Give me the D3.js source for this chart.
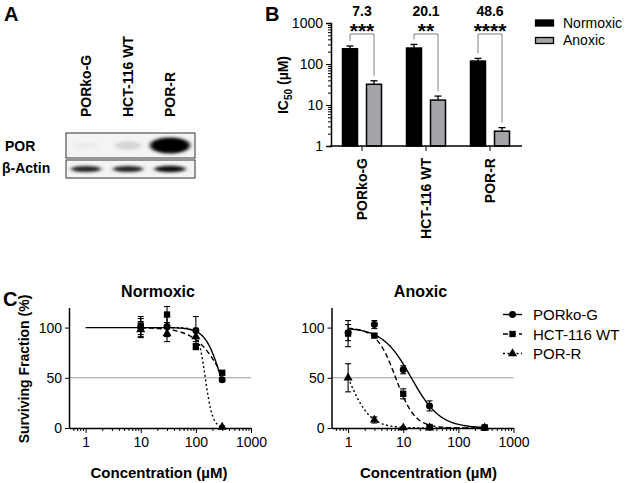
<!DOCTYPE html>
<html>
<head>
<meta charset="utf-8">
<script src="https://cdn.jsdelivr.net/npm/d3@7"></script>
<style>
  body { margin: 0; background: #fff; }
  text { font-family: "Liberation Sans", Arial, Helvetica, sans-serif; fill: #000; }
</style>
</head>
<body>
<div id="chart"></div>
<script>
// ---- panel A: western blot lanes and band strengths (0..1)
var lanes = ["PORko-G", "HCT-116 WT", "POR-R"];
var porBand = [0.03, 0.13, 1.0];
var actinBand = [0.85, 0.85, 0.95];

// ---- panel B: IC50 (uM), mean and upper error
var cellLines = ["PORko-G", "HCT-116 WT", "POR-R"];
var normoxicIC50 = [235, 245, 118];
var normoxicErr = [40, 55, 19];
var anoxicIC50 = [32, 13.2, 2.3];
var anoxicErr = [7, 3.3, 0.5];
var ratioLabels = ["7.3", "20.1", "48.6"];
var starLabels = ["***", "**", "****"];
var conditions = ["Normoxic", "Anoxic"];

// ---- panel C: surviving fraction (%)
var normoxicConc = [10, 30, 100, 300];
var normPORko = [100, 101, 97, 48];
var normPORkoErr = [9, 10, 14, 2];
var normHCT = [102, 113, 81, 55];
var normHCTErr = [9, 8, 3, 2];
var normPORR = [98, 94, 91, 1];
var normPORRErr = [8, 8, 5, 1];

var anoxicConc = [1, 3, 10, 30, 300];
var anoxPORko = [95, 103, 58, 22, 0.5];
var anoxPORkoErr = [8, 4, 4, 5, 1];
var anoxHCT = [94, 92, 34, 1, 0.5];
var anoxHCTErr = [13, 2, 5, 1, 1];
var anoxPORR = [50, 8, 0.3, 0.2, 0.2];
var anoxPORRErr = [14, 3, 0.5, 0.5, 0.5];

// fitted dose-response curves (ic50, hill slope, drawn from..to)
var normFitIC50 = [285, 322, 148];
var normFitHill = [3.1, 1.7, 6.5];
var normFitFrom = [1, 10, 10];
var anoxFitIC50 = [14, 7.3, 1.0];
var anoxFitHill = [1.67, 2.5, 2.2];
var anoxFitFrom = [1, 1, 1];
var fitTo = 300;

var seriesNames = ["PORko-G", "HCT-116 WT", "POR-R"];
var dashes = [null, "5,3", "2,2.5"];
var symbols = [d3.symbolCircle, d3.symbolSquare, d3.symbolTriangle];
var symbolSizes = [38, 40, 36];

var W = 625, H = 483;
var svg = d3.select("#chart").append("svg")
    .attr("width", W).attr("height", H);

var defs = svg.append("defs");
defs.append("filter").attr("id", "blur").attr("x", "-50%").attr("y", "-100%")
    .attr("width", "200%").attr("height", "300%")
  .append("feGaussianBlur").attr("stdDeviation", "2.2 1.6");

function panelLetter(t, x, y) {
  svg.append("text").attr("x", x).attr("y", y)
      .attr("font-size", 20).attr("font-weight", "bold").text(t);
}

// ================= A =================
panelLetter("A", 4, 21);

var laneX = d3.scalePoint().domain(lanes).range([86, 170]);

svg.append("g").selectAll("text")
    .data(lanes)
  .enter().append("text")
    .attr("transform", d => "translate(" + (laneX(d) + 5) + ",117) rotate(-90)")
    .attr("font-size", 14).attr("font-weight", "bold")
    .text(d => d);

svg.append("text").attr("x", 5).attr("y", 151)
    .attr("font-size", 14).attr("font-weight", "bold").text("POR");
svg.append("text").attr("x", 2).attr("y", 173)
    .attr("font-size", 14).attr("font-weight", "bold").text("β-Actin");

function blotStrip(y0, h, vals, bw, bh) {
  var g = svg.append("g");
  g.append("rect").attr("x", 66).attr("y", y0).attr("width", 129).attr("height", h)
      .attr("fill", "#f4f4f4");
  g.append("g").attr("filter", "url(#blur)")
    .selectAll("ellipse")
    .data(vals)
    .enter().append("ellipse")
      .attr("cx", (d, i) => laneX(lanes[i]))
      .attr("cy", y0 + h / 2)
      .attr("rx", (d, i) => bw * (0.6 + 0.4 * d))
      .attr("ry", (d) => bh * (0.45 + 0.55 * d))
      .attr("fill", "#000")
      .attr("opacity", d => d);
  g.append("rect").attr("x", 66).attr("y", y0).attr("width", 129).attr("height", h)
      .attr("fill", "none").attr("stroke", "#333").attr("stroke-width", 1);
}
blotStrip(133, 25, porBand, 20, 8);
blotStrip(160, 18, actinBand, 16, 3.3);

// ================= B =================
panelLetter("B", 265, 21);

var yB = d3.scaleLog().domain([1, 1000]).range([146, 23]);
var xB = d3.scaleBand().domain(cellLines).range([330, 522]);
var xSub = d3.scaleBand().domain(conditions).range([-19.5, 19.5]).paddingInner(0.375);

var gB = svg.append("g");

// minor ticks
var minorB = [];
[1, 10, 100].forEach(function(dec) { for (var k = 2; k <= 9; k++) minorB.push(dec * k); });
gB.append("g").attr("transform", "translate(331,0)")
    .call(d3.axisLeft(yB).tickValues(minorB).tickSize(3).tickFormat(""))
    .call(g => g.select(".domain").remove());
gB.append("g").attr("transform", "translate(331,0)")
    .call(d3.axisLeft(yB).tickValues([1, 10, 100, 1000]).tickFormat(d3.format("d"))
      .tickSize(5).tickPadding(3))
    .call(g => g.selectAll("text").attr("font-size", 14))
    .call(g => g.select(".domain").attr("stroke-width", 1.5));

var barRows = cellLines.map((c, i) => [
  { line: c, cond: "Normoxic", v: normoxicIC50[i], e: normoxicErr[i] },
  { line: c, cond: "Anoxic", v: anoxicIC50[i], e: anoxicErr[i] }
]);
var barData = [].concat.apply([], barRows);
var bx = d => xB(d.line) + xB.bandwidth() / 2 + xSub(d.cond);

// error bars (upper only)
var eb = gB.append("g").attr("stroke", "#000").attr("stroke-width", 1.3);
eb.selectAll("line.v").data(barData).enter().append("line")
    .attr("x1", d => bx(d) + xSub.bandwidth() / 2).attr("x2", d => bx(d) + xSub.bandwidth() / 2)
    .attr("y1", d => yB(d.v)).attr("y2", d => yB(d.v + d.e));
eb.selectAll("line.c").data(barData).enter().append("line")
    .attr("x1", d => bx(d) + xSub.bandwidth() / 2 - 3.5).attr("x2", d => bx(d) + xSub.bandwidth() / 2 + 3.5)
    .attr("y1", d => yB(d.v + d.e)).attr("y2", d => yB(d.v + d.e));

gB.selectAll("rect.bar").data(barData).enter().append("rect")
    .attr("x", bx)
    .attr("y", d => yB(d.v))
    .attr("width", xSub.bandwidth())
    .attr("height", d => yB(1) - yB(d.v))
    .attr("fill", d => d.cond == "Normoxic" ? "#000" : "#a4a4a8")
    .attr("stroke", "#000").attr("stroke-width", 1.5);

// x axis
gB.append("g").attr("transform", "translate(0,146)")
    .call(d3.axisBottom(xB).tickSize(5).tickFormat(""))
    .call(g => g.select(".domain").attr("stroke-width", 1.5)
      .attr("d", "M330,0H522"));
gB.selectAll("text.xl").data(cellLines).enter().append("text")
    .attr("transform", d => "translate(" + (xB(d) + xB.bandwidth() / 2 + 5) + ",158) rotate(-90)")
    .attr("text-anchor", "end")
    .attr("font-size", 14).attr("font-weight", "bold")
    .text(d => d);

// y label
var yl = gB.append("text")
    .attr("transform", "translate(288,85) rotate(-90)")
    .attr("text-anchor", "middle")
    .attr("font-size", 14).attr("font-weight", "bold");
yl.append("tspan").text("IC");
yl.append("tspan").attr("font-size", 10).attr("dy", 4).text("50");
yl.append("tspan").attr("dy", -4).text(" (µM)");

// brackets, ratios, stars
cellLines.forEach(function(c, i) {
  var cx = xB(c) + xB.bandwidth() / 2;
  var xl = bx(barRows[i][0]) + xSub.bandwidth() / 2;
  var xr = bx(barRows[i][1]) + xSub.bandwidth() / 2;
  var yTop = 34;
  gB.append("path")
      .attr("d", "M" + xl + "," + (yB(normoxicIC50[i] + normoxicErr[i]) - 5) + "V" + yTop +
                 "H" + xr + "V" + (yB(anoxicIC50[i] + anoxicErr[i]) - 5))
      .attr("fill", "none").attr("stroke", "#808080").attr("stroke-width", 1);
  gB.append("text").attr("x", cx).attr("y", 16).attr("text-anchor", "middle")
      .attr("font-size", 14).attr("font-weight", "bold").text(ratioLabels[i]);
  gB.append("text").attr("x", cx).attr("y", 38).attr("text-anchor", "middle")
      .attr("font-size", 21).attr("font-weight", "bold").text(starLabels[i]);
});

// legend B
var lgB = gB.append("g");
conditions.forEach(function(c, i) {
  lgB.append("rect").attr("x", 535.5).attr("y", 20 + i * 17.5).attr("width", 18).attr("height", 6)
      .attr("fill", i == 0 ? "#000" : "#a4a4a8").attr("stroke", "#000").attr("stroke-width", 1.3);
  lgB.append("text").attr("x", 563).attr("y", 27.5 + i * 17.5)
      .attr("font-size", 14).text(c);
});

// ================= C =================
panelLetter("C", 3, 306);

function hill(ic50, h, x) { return 100 / (1 + Math.pow(x / ic50, h)); }

function curvePanel(opt) {
  var x = d3.scaleLog().domain([0.5, 1000]).range([opt.x0, opt.x0 + 182]);
  var y = d3.scaleLinear().domain([0, 120]).range([428, 307.5]);
  var g = svg.append("g");

  // 50% reference line
  g.append("line").attr("x1", opt.x0).attr("x2", x(1000))
      .attr("y1", y(50)).attr("y2", y(50))
      .attr("stroke", "#9a9a9a").attr("stroke-width", 1);

  var minor = [0.6, 0.7, 0.8, 0.9];
  [1, 10, 100].forEach(function(dec) { for (var k = 2; k <= 9; k++) minor.push(dec * k); });
  g.append("g").attr("transform", "translate(0,428)")
      .call(d3.axisBottom(x).tickValues(minor).tickSize(3).tickFormat(""))
      .call(s => s.select(".domain").remove());
  g.append("g").attr("transform", "translate(0,428)")
      .call(d3.axisBottom(x).tickValues([1, 10, 100, 1000]).tickFormat(d3.format("d"))
        .tickSize(5).tickSizeOuter(0).tickPadding(4))
      .call(s => s.selectAll("text").attr("font-size", 14))
      .call(s => s.select(".domain").attr("stroke-width", 1.5));
  g.append("g").attr("transform", "translate(" + opt.x0 + ",0)")
      .call(d3.axisLeft(y).tickValues([0, 50, 100]).tickSize(4).tickSizeOuter(0).tickPadding(3))
      .call(s => s.selectAll("text").attr("font-size", 14))
      .call(s => s.select(".domain").attr("stroke-width", 1.5));

  g.append("text").attr("x", opt.x0 + 89).attr("y", 297).attr("text-anchor", "middle")
      .attr("font-size", 16).attr("font-weight", "bold").text(opt.title);
  g.append("text").attr("x", opt.x0 + opt.xlabDx).attr("y", 478).attr("text-anchor", "middle")
      .attr("font-size", 15).attr("font-weight", "bold").text("Concentration (µM)");

  var line = d3.line().x(d => x(d[0])).y(d => y(d[1]));
  opt.ic50.forEach(function(ic, s) {
    var lo = Math.log10(opt.from[s]), hi = Math.log10(fitTo);
    var pts = d3.range(0, 121).map(k => {
      var xv = Math.pow(10, lo + (hi - lo) * k / 120);
      return [xv, hill(ic, opt.hill[s], xv)];
    });
    g.append("path").attr("d", line(pts))
        .attr("fill", "none").attr("stroke", "#000").attr("stroke-width", 1.4)
        .attr("stroke-dasharray", dashes[s]);
  });

  opt.series.forEach(function(sr, s) {
    var pts = opt.conc.map((c, i) => ({ c: c, v: sr.v[i], e: sr.e[i] }));
    var eg = g.append("g").attr("stroke", "#000").attr("stroke-width", 1.1);
    pts.forEach(function(p) {
      var px = x(p.c), y1 = y(p.v - p.e), y2 = y(Math.min(p.v + p.e, 122));
      eg.append("line").attr("x1", px).attr("x2", px).attr("y1", y1).attr("y2", y2);
      eg.append("line").attr("x1", px - 3).attr("x2", px + 3).attr("y1", y1).attr("y2", y1);
      if (p.v + p.e < 122)
        eg.append("line").attr("x1", px - 3).attr("x2", px + 3).attr("y1", y2).attr("y2", y2);
    });
    g.append("g").selectAll("path").data(pts).enter().append("path")
        .attr("transform", p => "translate(" + x(p.c) + "," + y(p.v) + ")")
        .attr("d", d3.symbol().type(symbols[s]).size(symbolSizes[s]))
        .attr("fill", "#000");
  });
}

curvePanel({
  x0: 69, title: "Normoxic", xlabDx: 90,
  conc: normoxicConc,
  series: [{ v: normPORko, e: normPORkoErr }, { v: normHCT, e: normHCTErr }, { v: normPORR, e: normPORRErr }],
  ic50: normFitIC50, hill: normFitHill, from: normFitFrom
});
curvePanel({
  x0: 331.5, title: "Anoxic", xlabDx: 97,
  conc: anoxicConc,
  series: [{ v: anoxPORko, e: anoxPORkoErr }, { v: anoxHCT, e: anoxHCTErr }, { v: anoxPORR, e: anoxPORRErr }],
  ic50: anoxFitIC50, hill: anoxFitHill, from: anoxFitFrom
});

svg.append("text")
    .attr("transform", "translate(29,369) rotate(-90)")
    .attr("text-anchor", "middle")
    .attr("font-size", 14).attr("font-weight", "bold")
    .text("Surviving Fraction (%)");

// legend C
var lgC = svg.append("g");
seriesNames.forEach(function(n, i) {
  var yy = 314.5 + i * 19.5;
  lgC.append("line").attr("x1", 503).attr("x2", 522).attr("y1", yy).attr("y2", yy)
      .attr("stroke", "#000").attr("stroke-width", 1.4).attr("stroke-dasharray", dashes[i]);
  lgC.append("path").attr("transform", "translate(512.5," + yy + ")")
      .attr("d", d3.symbol().type(symbols[i]).size(symbolSizes[i])).attr("fill", "#000");
  lgC.append("text").attr("x", 533).attr("y", yy + 5.5).attr("font-size", 15).text(n);
});
</script>
</body>
</html>
